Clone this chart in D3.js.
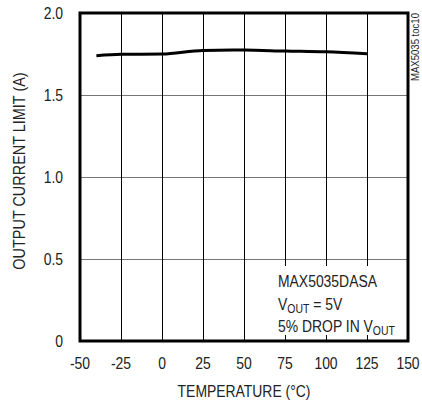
<!DOCTYPE html>
<html>
<head>
<meta charset="utf-8">
<script src="https://cdn.jsdelivr.net/npm/d3@7"></script>
<style>
  body { margin: 0; background: #fff; }
  text { font-family: "Liberation Sans", Arial, sans-serif; fill: #222; }
</style>
</head>
<body>
<div id="chart"></div>
<script>
// Data
const temps = [-40, -25, 0, 25, 50, 75, 100, 125];
const limits = [1.74, 1.748, 1.75, 1.772, 1.774, 1.768, 1.763, 1.752];

const xTicks = [-50, -25, 0, 25, 50, 75, 100, 125, 150];
const yTicks = [0, 0.5, 1.0, 1.5, 2.0];
const yTickLabels = ["0", "0.5", "1.0", "1.5", "2.0"];

const width = 422;
const height = 404;
const margin = { top: 13, right: 14, bottom: 63, left: 80 };
const squeeze = 0.87; // fake a condensed face

const svg = d3.select("#chart")
    .append("svg")
    .attr("width", width)
    .attr("height", height);

const x = d3.scaleLinear()
    .domain([-50, 150])
    .range([margin.left, width - margin.right]);

const y = d3.scaleLinear()
    .domain([0, 2])
    .range([height - margin.bottom, margin.top]);

// text helper: position, optional rotation, then horizontal squeeze
function label(px, py, str, size, anchor, rot) {
    return svg.append("text")
        .attr("transform", `translate(${px},${py})` + (rot ? ` rotate(${rot})` : "") + ` scale(${squeeze},1)`)
        .attr("font-size", size)
        .attr("text-anchor", anchor || "start")
        .text(str);
}

// grid
svg.append("g")
    .selectAll("line")
    .data(yTicks.slice(1, -1))
    .join("line")
    .attr("x1", x(-50)).attr("x2", x(150))
    .attr("y1", d => Math.round(y(d)) + 0.5)
    .attr("y2", d => Math.round(y(d)) + 0.5)
    .attr("stroke", "#777")
    .attr("stroke-width", 1);

svg.append("g")
    .selectAll("line")
    .data(xTicks.slice(1, -1))
    .join("line")
    .attr("x1", d => Math.round(x(d)) + 0.5)
    .attr("x2", d => Math.round(x(d)) + 0.5)
    .attr("y1", y(2)).attr("y2", y(0))
    .attr("stroke", "#000")
    .attr("stroke-width", 1);

// legend box covers the grid
svg.append("rect")
    .attr("x", x(60))
    .attr("y", 266)
    .attr("width", x(148) - x(60))
    .attr("height", 69)
    .attr("fill", "#fff");

label(278, 287, "MAX5035DASA", 16);
const l2 = label(278, 310, "", 16);
l2.append("tspan").text("V");
l2.append("tspan").attr("font-size", 12).attr("dy", 3).text("OUT");
l2.append("tspan").attr("dy", -3).text(" = 5V");
const l3 = label(278, 332, "", 16);
l3.append("tspan").text("5% DROP IN V");
l3.append("tspan").attr("font-size", 12).attr("dy", 3).text("OUT");

// frame
svg.append("rect")
    .attr("x", x(-50))
    .attr("y", y(2))
    .attr("width", x(150) - x(-50))
    .attr("height", y(0) - y(2))
    .attr("fill", "none")
    .attr("stroke", "#000")
    .attr("stroke-width", 3);

// curve
const line = d3.line()
    .x((d, i) => x(temps[i]))
    .y(d => y(d))
    .curve(d3.curveMonotoneX);

svg.append("path")
    .datum(limits)
    .attr("d", line)
    .attr("fill", "none")
    .attr("stroke", "#000")
    .attr("stroke-width", 3);

// tick labels
xTicks.forEach(d => label(x(d), y(0) + 28, d, 16, "middle"));
yTicks.forEach((d, i) => label(x(-50) - 17, y(d) + 6, yTickLabels[i], 16, "end"));

// axis titles
label((x(-50) + x(150)) / 2, 397, "TEMPERATURE (°C)", 16, "middle");
label(25, 171, "OUTPUT CURRENT LIMIT (A)", 16.6, "middle", -90);
label(419, y(2), "MAX5035 toc10", 11, "end", -90);
</script>
</body>
</html>
